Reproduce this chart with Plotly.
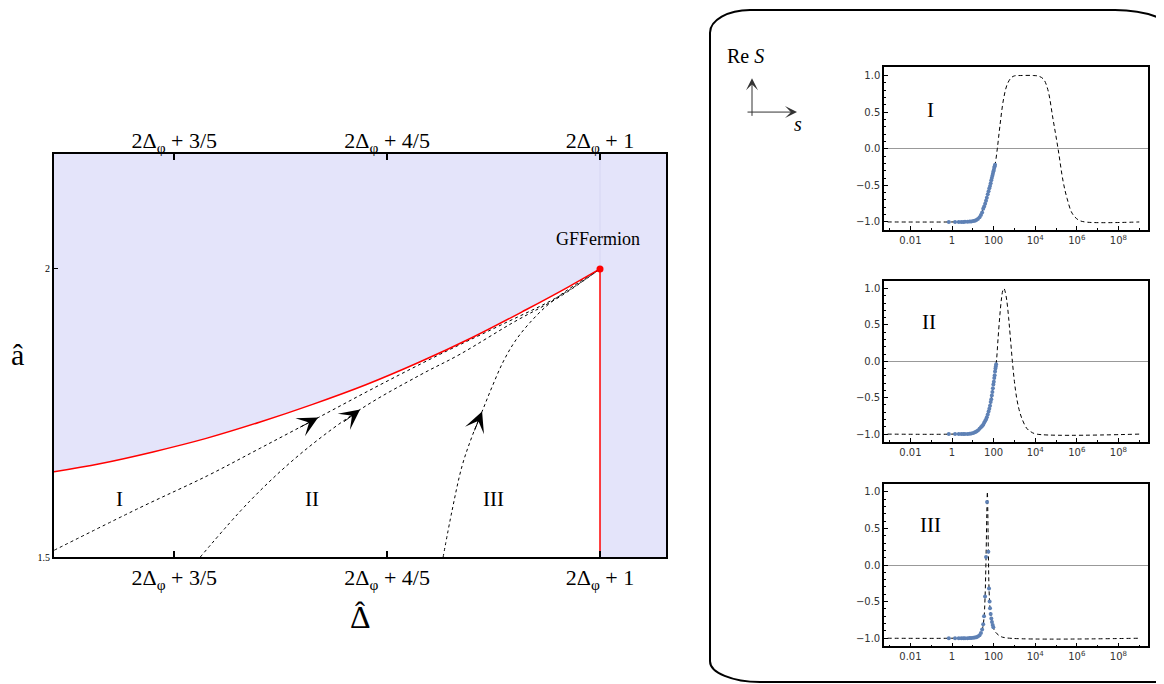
import math
import plotly.graph_objects as go

# the page has an 8px body margin, so the figure is laid out from (8, 8)
OFF = 8
W, H = 1164 - OFF, 684 - OFF


def px(x):
    return (x - OFF) / W


def py(y):
    return 1 - (y - OFF) / H


# ---- main panel (x is Delta-hat measured from 2*Delta_phi) ----
red_d = [0.487, 0.53, 0.58, 0.63, 0.68, 0.73, 0.78, 0.83, 0.88, 0.93, 0.97, 1.0]
red_a = [1.648, 1.662, 1.6825, 1.706, 1.734, 1.765, 1.799, 1.838, 1.881, 1.9287, 1.9685, 2.0]

traj1_d = [0.4873, 0.568, 0.631, 0.6808, 0.7352, 0.7934, 0.8498, 0.9061, 0.9624, 1.0]
traj1_a = [1.512, 1.586, 1.641, 1.689, 1.742, 1.799, 1.852, 1.902, 1.9536, 2.0]

traj2_d = [0.6244, 0.6714, 0.7183, 0.7746, 0.831, 0.8685, 0.9183, 0.9624, 1.0]
traj2_a = [1.5, 1.598, 1.6787, 1.756, 1.816, 1.852, 1.907, 1.952, 2.0]

traj3_d = [0.8526, 0.861, 0.8704, 0.8798, 0.8892, 0.8986, 0.9089, 0.9202, 0.9343, 0.9502, 0.9671,
           0.984, 1.0]
traj3_a = [1.5, 1.5808, 1.6581, 1.7096, 1.7526, 1.7955, 1.8385, 1.8746, 1.9072, 1.9364, 1.9605,
           1.9811, 2.0]

main_tickvals = [0.6, 0.8, 1.0]
main_ticktext = ["2Δ<sub>φ</sub> + 3/5", "2Δ<sub>φ</sub> + 4/5", "2Δ<sub>φ</sub> + 1"]

# ---- insets: Re S(s) ----
s1_line = [0.0008, 1, 5, 10, 15, 22, 32, 46, 67, 97, 117, 150, 200, 300, 450, 700, 1000, 2000,
           8000, 15000, 25000, 40000, 72000, 125000, 220000, 340000, 590000, 1.15e6, 2.5e6, 1e9]
v1_line = [-1, -1, -0.995, -0.985, -0.97, -0.92, -0.81, -0.68, -0.51, -0.31, -0.22, 0.0, 0.31, 0.68,
           0.88, 0.97, 0.995, 1.0, 1.0, 0.99, 0.95, 0.81, 0.4, 0.0, -0.45, -0.68, -0.88, -0.97, -1.0, -1.0]
s1_dots = [0.7, 1.4, 2.1, 2.8, 3.5, 4.2, 5.6, 7, 8.4, 10.5, 12.6, 14.7, 17.5, 21, 24.5, 28, 31.5, 35,
           39, 43, 47, 52, 57, 62, 67, 72, 77, 82, 87, 92, 97, 102, 107, 112, 117]
v1_dots = [-1, -1, -1, -1, -0.999, -0.998, -0.997, -0.995, -0.993, -0.988, -0.982, -0.972, -0.96,
           -0.935, -0.905, -0.87, -0.82, -0.79, -0.75, -0.71, -0.67, -0.62, -0.58, -0.54, -0.51,
           -0.47, -0.43, -0.40, -0.37, -0.34, -0.31, -0.29, -0.26, -0.24, -0.22]

s2_line = [0.0008, 1, 10, 22, 47, 68, 81, 98, 117, 138, 162, 200, 240, 275, 316, 363, 427, 525,
           631, 794, 1000, 1290, 1660, 2240, 3890, 6310, 11750, 1e9]
v2_line = [-1, -1, -0.985, -0.92, -0.77, -0.61, -0.47, -0.31, -0.14, 0.02, 0.30, 0.64, 0.87, 0.97,
           1.0, 0.95, 0.84, 0.60, 0.34, 0.0, -0.28, -0.51, -0.66, -0.78, -0.92, -0.97, -1.0, -1.0]
s2_dots = [0.7, 1.4, 2.1, 2.8, 3.5, 4.2, 5.6, 7, 8.4, 10.5, 12.6, 14.7, 17.5, 21, 24.5, 28, 31.5, 35,
           39, 43, 47, 52, 57, 62, 67, 72, 77, 82, 87, 92, 97, 102, 107, 112, 117, 122, 127, 132]
v2_dots = [-1, -1, -1, -1, -1, -0.999, -0.998, -0.996, -0.993, -0.985, -0.975, -0.965, -0.95,
           -0.925, -0.905, -0.89, -0.87, -0.845, -0.82, -0.80, -0.77, -0.73, -0.69, -0.65, -0.61,
           -0.56, -0.52, -0.47, -0.42, -0.37, -0.32, -0.28, -0.23, -0.19, -0.14, -0.10, -0.07, -0.04]

s3_line = [0.0008, 1, 10, 16, 22, 29.5, 34.5, 38.6, 43.2, 48.2, 50, 55.8, 60, 67, 77.6, 90, 112,
           200, 400, 1e9]
v3_line = [-1, -1, -0.99, -0.975, -0.95, -0.86, -0.72, -0.45, 0.11, 0.86, 1.0, 0.18, -0.32, -0.59,
           -0.73, -0.82, -0.9, -0.97, -0.995, -1.0]
s3_dots = [0.7, 1.4, 2.1, 2.8, 3.5, 4.2, 5.6, 7, 8.4, 10.5, 12.6, 14.7, 17.5, 21, 24.5, 28, 31.5,
           34.5, 38.6, 43.2, 48.2, 55.8, 60, 64, 67, 72, 77.6, 83, 90, 97]
v3_dots = [-1, -1, -1, -1, -1, -1, -0.999, -0.998, -0.997, -0.995, -0.99, -0.985, -0.975, -0.96,
           -0.93, -0.88, -0.81, -0.70, -0.43, 0.11, 0.86, 0.18, -0.32, -0.50, -0.59, -0.67, -0.73,
           -0.78, -0.82, -0.85]

inset_tickvals = [0.01, 1, 100, 1e4, 1e6, 1e8]
inset_ticktext = ["0.01", "1", "100", "10<sup>4</sup>", "10<sup>6</sup>", "10<sup>8</sup>"]

SERIF = "Liberation Serif"
SANS = "DejaVu Sans"

fig = go.Figure()

# shaded region: above the red boundary, and everything right of 2Δφ+1
x_lo, x_hi, a_lo, a_hi = 0.487, 1.062, 1.5, 2.2
fill_x = [x_lo] + red_d + [1.0, x_hi, x_hi, x_lo]
fill_y = [a_hi] + red_a + [a_lo, a_lo, a_hi, a_hi]
fig.add_trace(go.Scatter(x=fill_x, y=fill_y, mode='lines', fill='toself', fillcolor='#e4e4fa',
                         line=dict(width=0), hoverinfo='skip'))
fig.add_trace(go.Scatter(x=[1.0, 1.0], y=[2.0, a_hi], mode='lines',
                         line=dict(color='#d6d6f2', width=1)))

for d, a in [(traj1_d, traj1_a), (traj2_d, traj2_a), (traj3_d, traj3_a)]:
    fig.add_trace(go.Scatter(x=d, y=a, mode='lines', line_shape='spline',
                             line=dict(color='black', width=1, dash='3px,3px')))

fig.add_trace(go.Scatter(x=red_d, y=red_a, mode='lines', line_shape='spline',
                         line=dict(color='red', width=1.5)))
fig.add_trace(go.Scatter(x=[1.0, 1.0], y=[a_lo, 2.0], mode='lines', line=dict(color='red', width=1.5)))
fig.add_trace(go.Scatter(x=[1.0], y=[2.0], mode='markers', marker=dict(color='red', size=7)))
# dummy trace so the top axis is drawn
fig.add_trace(go.Scatter(x=[0.6], y=[1.6], xaxis='x2', mode='markers', marker=dict(opacity=0),
                         hoverinfo='skip'))

# insets
panels = [(s1_line, v1_line, s1_dots, v1_dots),
          (s2_line, v2_line, s2_dots, v2_dots),
          (s3_line, v3_line, s3_dots, v3_dots)]
for k, (sl, vl, sd, vd) in enumerate(panels):
    xa, ya = 'x%d' % (k + 3), 'y%d' % (k + 3)
    fig.add_trace(go.Scatter(x=sl, y=vl, xaxis=xa, yaxis=ya, mode='lines', line_shape='spline',
                             line=dict(color='black', width=1, dash='4px,3px')))
    fig.add_trace(go.Scatter(x=sd, y=vd, xaxis=xa, yaxis=ya, mode='markers',
                             marker=dict(color='#5e81b5', size=4)))

frame = dict(showline=True, linecolor='black', showgrid=False, zeroline=False)
main_font = dict(family=SERIF, size=22, color='black')

layout = dict(
    width=W, height=H, margin=dict(l=0, r=0, t=0, b=0),
    plot_bgcolor='white', paper_bgcolor='white', showlegend=False,
    xaxis=dict(frame, domain=[px(54), px(666)], range=[x_lo, x_hi], anchor='y', linewidth=2,
               mirror=True, tickvals=main_tickvals, ticktext=main_ticktext, ticks='inside',
               ticklen=6, tickwidth=1.5, tickcolor='black', tickfont=main_font),
    xaxis2=dict(domain=[px(54), px(666)], range=[x_lo, x_hi], overlaying='x', side='top', anchor='y',
                showgrid=False, zeroline=False, tickvals=main_tickvals, ticktext=main_ticktext,
                ticks='inside', ticklen=6, tickwidth=1.5, tickcolor='black', tickfont=main_font),
    yaxis=dict(frame, domain=[py(562), py(155)], range=[a_lo, a_hi], anchor='x', linewidth=2,
               mirror=True, tickvals=[1.5, 2.0], ticktext=['1.5', '2'], ticks='inside', ticklen=4,
               tickcolor='black', tickfont=dict(family=SERIF, size=10, color='black')),
)

inset_y = [(232, 68), (446, 283), (652, 488)]
for k, (yb, yt) in enumerate(inset_y):
    n = k + 3
    layout['xaxis%d' % n] = dict(frame, domain=[px(884), px(1148)], anchor='y%d' % n, type='log',
                                 range=[-3.27, 9.42], linewidth=1.5, mirror=True,
                                 tickvals=inset_tickvals, ticktext=inset_ticktext, ticks='inside',
                                 ticklen=4, tickcolor='black',
                                 minor=dict(tickvals=[1e-3, 0.1, 10, 1e3, 1e5, 1e7, 1e9],
                                            ticks='inside', ticklen=2, tickcolor='black'),
                                 tickfont=dict(family=SANS, size=10, color='#333'))
    layout['yaxis%d' % n] = dict(showline=True, linecolor='black', showgrid=False,
                                 domain=[py(yb), py(yt)], anchor='x%d' % n, range=[-1.11, 1.11],
                                 linewidth=1.5, mirror=True, tickvals=[-1, -0.5, 0, 0.5, 1],
                                 tickformat='.1f', ticks='inside', ticklen=4, tickcolor='black',
                                 minor=dict(dtick=0.1, tick0=0, ticks='inside', ticklen=2,
                                            tickcolor='black'),
                                 zeroline=True, zerolinecolor='#999', zerolinewidth=1,
                                 tickfont=dict(family=SANS, size=10, color='#333'))

fig.update_layout(**layout)

# arrows along the trajectories (heads at a chosen data point, pointing along the curve)
XS = (666 - 54) / (x_hi - x_lo)   # px per unit of Delta-hat
YS = (562 - 155) / (a_hi - a_lo)  # px per unit of a-hat
for d, a, i in [(traj1_d, traj1_a, 4), (traj2_d, traj2_a, 3), (traj3_d, traj3_a, 4)]:
    vx = (d[i] - d[i - 1]) * XS
    vy = -(a[i] - a[i - 1]) * YS
    n = math.hypot(vx, vy)
    fig.add_annotation(x=d[i], y=a[i], xref='x', yref='y', ax=-22 * vx / n, ay=-22 * vy / n,
                       showarrow=True, arrowhead=3, arrowsize=3.4, arrowwidth=1, arrowcolor='black',
                       standoff=0, text='')


def label(x, y, text, size):
    fig.add_annotation(x=px(x), y=py(y), xref='paper', yref='paper', text=text, showarrow=False,
                       xanchor='center', yanchor='middle',
                       font=dict(family=SERIF, size=size, color='black'))


label(119, 503, 'I', 21)
label(312, 503, 'II', 21)
label(493, 503, 'III', 21)
label(598, 241, 'GFFermion', 18)
label(17, 358, 'â', 30)
label(360, 622, 'Δ', 32)
label(360, 617, 'ˆ', 30)

label(930, 111, 'I', 21)
label(929, 325, 'II', 21)
label(930, 530, 'III', 21)

# Re S / s axes sketch
label(745, 56, 'Re <i>S</i>', 20)
label(798, 125, '<i>s</i>', 20)
fig.add_annotation(x=px(752), y=py(79), xref='paper', yref='paper', ax=0, ay=39, text='',
                   showarrow=True, arrowhead=3, arrowsize=2, arrowwidth=1, arrowcolor='#333',
                   standoff=0)
fig.add_annotation(x=px(797), y=py(113), xref='paper', yref='paper', ax=-51, ay=0, text='',
                   showarrow=True, arrowhead=3, arrowsize=2, arrowwidth=1, arrowcolor='#333',
                   standoff=0)

# rounded box around the insets
L, T, R, B = 710, 10, 1180, 688
k = 0.5523
r1x, r1y = 40, 23
r2x, r2y = 65, 30
r3x, r3y = 50, 21


def P(x, y):
    return '%.5f,%.5f' % (px(x), py(y))


path = ('M ' + P(L + r1x, T) + ' L ' + P(R - r2x, T) +
        ' C ' + P(R - r2x + k * r2x, T) + ' ' + P(R, T + r2y - k * r2y) + ' ' + P(R, T + r2y) +
        ' L ' + P(R, B) + ' L ' + P(L + r3x, B) +
        ' C ' + P(L + r3x - k * r3x, B) + ' ' + P(L, B - r3y + k * r3y) + ' ' + P(L, B - r3y) +
        ' L ' + P(L, T + r1y) +
        ' C ' + P(L, T + r1y - k * r1y) + ' ' + P(L + r1x - k * r1x, T) + ' ' + P(L + r1x, T) + ' Z')
fig.add_shape(type='path', path=path, xref='paper', yref='paper', line=dict(color='black', width=2))

fig.write_html("out.html")
